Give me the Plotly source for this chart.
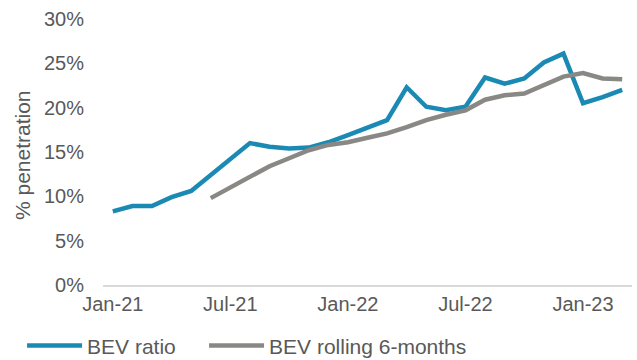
import plotly.graph_objects as go

months = ["Jan-21", "Feb-21", "Mar-21", "Apr-21", "May-21", "Jun-21", "Jul-21", "Aug-21", "Sep-21",
          "Oct-21", "Nov-21", "Dec-21", "Jan-22", "Feb-22", "Mar-22", "Apr-22", "May-22", "Jun-22",
          "Jul-22", "Aug-22", "Sep-22", "Oct-22", "Nov-22", "Dec-22", "Jan-23", "Feb-23", "Mar-23"]

bev_ratio = [8.3, 8.9, 8.9, 9.9, 10.6, 12.4, 14.1, 16.0, 15.6,
             15.4, 15.5, 16.1, 16.9, 17.7, 18.6, 22.3, 20.1, 19.7,
             20.1, 23.4, 22.7, 23.3, 25.1, 26.1, 20.5, 21.2, 22.0]

bev_rolling = [None, None, None, None, None, 9.8, 11.0, 12.3, 13.4,
               14.3, 15.2, 15.8, 16.1, 16.6, 17.1, 17.8, 18.6, 19.2,
               19.7, 20.9, 21.4, 21.6, 22.5, 23.5, 23.9, 23.3, 23.2]

tick_labels = ["Jan-21", "Jul-21", "Jan-22", "Jul-22", "Jan-23"]
y_ticks = [0, 5, 10, 15, 20, 25, 30]
y_tick_labels = ["0%", "5%", "10%", "15%", "20%", "25%", "30%"]

font_color = "#595959"

fig = go.Figure()
fig.add_trace(go.Scatter(x=months, y=bev_ratio, mode="lines", name="BEV ratio",
                         line=dict(color="#1A8AB4", width=4.5), legend="legend"))
fig.add_trace(go.Scatter(x=months, y=bev_rolling, mode="lines", name="BEV rolling 6-months",
                         line=dict(color="#8A8884", width=4.5), legend="legend2"))

legend_common = dict(orientation="h", xref="paper", y=-0.152, yref="paper",
                     xanchor="left", yanchor="top", font=dict(size=21), itemwidth=55,
                     bgcolor="rgba(0,0,0,0)")

fig.update_layout(
    width=637, height=360,
    margin=dict(l=103, r=5, t=19, b=75, autoexpand=False),
    paper_bgcolor="white", plot_bgcolor="white",
    font=dict(family="Liberation Sans, Arial, sans-serif", size=19, color=font_color),
    showlegend=True,
    legend=dict(x=-0.153, **legend_common),
    legend2=dict(x=0.191, **legend_common),
    xaxis=dict(type="category", range=[-0.5, len(months) - 0.5], tickmode="array",
               tickvals=tick_labels, ticktext=tick_labels, showgrid=False, showline=True,
               linecolor="#D9D9D9", linewidth=2, ticks="", tickfont=dict(size=20)),
    yaxis=dict(range=[0, 30], tickmode="array", tickvals=y_ticks, ticktext=y_tick_labels,
               showgrid=False, zeroline=False, showline=False, ticks="",
               tickfont=dict(size=20), ticklabelstandoff=18),
    annotations=[dict(text="% penetration", textangle=-90, xref="paper", yref="paper",
                      x=-0.151, y=0.489, xanchor="center", yanchor="middle",
                      showarrow=False, font=dict(size=21, color=font_color))],
)

fig.write_html("out.html", config={"displayModeBar": False},
               post_script="document.body.style.margin='0';document.body.style.padding='0';")
